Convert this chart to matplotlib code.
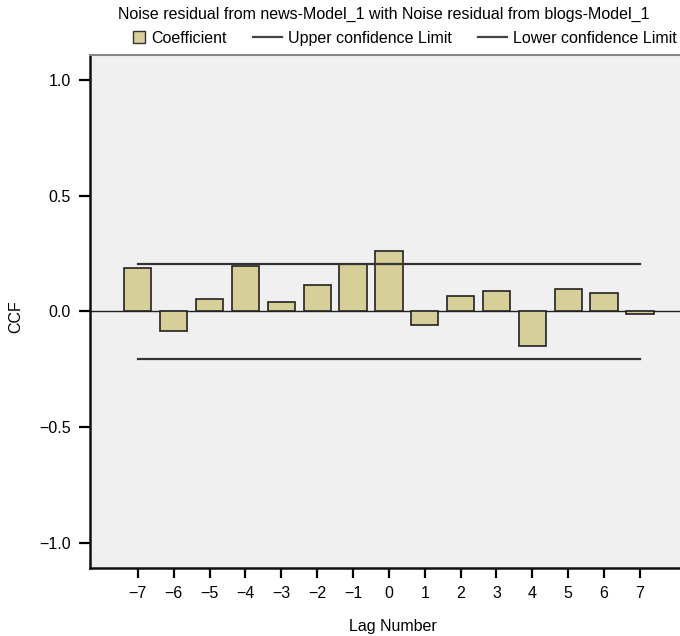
import numpy as np
import matplotlib.pyplot as plt
from matplotlib.lines import Line2D
from matplotlib.patches import Patch, Rectangle
from matplotlib.legend_handler import HandlerPatch

plt.rcParams['font.family'] = ['Liberation Sans', 'DejaVu Sans']

lags = [-7, -6, -5, -4, -3, -2, -1, 0, 1, 2, 3, 4, 5, 6, 7]
ccf = [0.19, -0.086, 0.052, 0.198, 0.043, 0.116, 0.203, 0.263,
       -0.06, 0.069, 0.09, -0.151, 0.099, 0.082, -0.01]
upper = [0.207] * 15
lower = [-0.207] * 15
tick_labels = ['\u22127', '\u22126', '\u22125', '\u22124', '\u22123', '\u22122', '\u22121',
               '0', '1', '2', '3', '4', '5', '6', '7']


def square_right(legend, orig_handle, xdescent, ydescent, width, height, fontsize):
    # small square pushed against the text, like the SPSS legend
    side = height * 1.1
    return Rectangle((width - side - xdescent, -ydescent + (height - side) / 2), side, side)


fig = plt.figure(figsize=(6.8, 6.36), dpi=100)
ax = fig.add_axes([0.132, 0.107, 0.875, 0.8065])
ax.set_facecolor('#f0f0f0')

bar_col = '#d6cf98'
ax.axhline(0, color='#222222', lw=1.0, zorder=1)
ax.bar(lags, ccf, width=0.76, color=bar_col, edgecolor='#222222', lw=1.2, zorder=2)
ax.plot(lags, upper, color='#333333', lw=1.6, zorder=3)
ax.plot(lags, lower, color='#333333', lw=1.6, zorder=3)

ax.set_xlim(-8.34, 8.25)
ax.set_ylim(-1.108, 1.108)
ax.set_xticks(lags)
ax.set_xticklabels(tick_labels)
ax.set_yticks([-1.0, -0.5, 0.0, 0.5, 1.0])
ax.set_yticklabels(['\u22121.0', '\u22120.5', '0.0', '0.5', '1.0'])
ax.tick_params(axis='x', length=7, width=1.6, labelsize=11.5, pad=6)
ax.tick_params(axis='y', length=8, width=1.6, labelsize=11.5, pad=5.5)

for s in ['left', 'bottom']:
    ax.spines[s].set_linewidth(1.8)
    ax.spines[s].set_color('#111111')
ax.spines['top'].set_color('#888888')
ax.spines['top'].set_linewidth(1.5)
ax.spines['right'].set_visible(False)

ax.set_ylabel('CCF', fontsize=11.5)
ax.yaxis.set_label_coords(-0.124, 0.49)
ax.yaxis.label.set_va('center')
ax.set_xlabel('Lag Number', fontsize=11.5)
ax.xaxis.set_label_coords(0.51, -0.115)
ax.xaxis.label.set_va('center')

fig.text(0.564, 0.978, 'Noise residual from news-Model_1 with Noise residual from blogs-Model_1',
         ha='center', va='center', fontsize=11.5)

coef_handle = Patch(facecolor=bar_col, edgecolor='#333333', lw=1.0)
handles = [coef_handle,
           Line2D([], [], color='#444444', lw=1.6),
           Line2D([], [], color='#444444', lw=1.6)]
fig.legend(handles, ['Coefficient', 'Upper confidence Limit', 'Lower confidence Limit'],
           loc='center', bbox_to_anchor=(0.583, 0.94), ncol=3, frameon=False,
           fontsize=11.5, handlelength=1.8, columnspacing=1.65,
           handletextpad=0.37, borderaxespad=0, borderpad=0,
           handler_map={coef_handle: HandlerPatch(patch_func=square_right)})

fig.savefig('out.png', dpi=100)
